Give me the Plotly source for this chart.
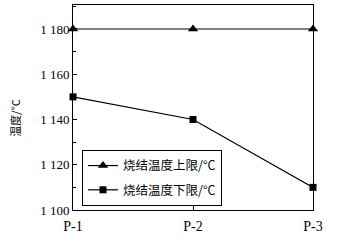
import plotly.graph_objects as go

categories = ["P-1", "P-2", "P-3"]
upper_limit = [1180, 1180, 1180]
lower_limit = [1150, 1140, 1110]
y_tick_vals = [1100, 1120, 1140, 1160, 1180]
y_tick_text = ["1 100", "1 120", "1 140", "1 160", "1 180"]
name_upper = "烧结温度上限/°C"
name_lower = "烧结温度下限/°C"
y_title = "温度/°C"

fig = go.Figure()
fig.add_trace(go.Scatter(
    x=categories, y=upper_limit, name=name_upper, mode="lines+markers",
    legendgroup="a",
    line=dict(color="black", width=1.2),
    marker=dict(symbol="triangle-up", size=9, color="black"),
    cliponaxis=False,
))
fig.add_trace(go.Scatter(
    x=categories, y=lower_limit, name=name_lower, mode="lines+markers",
    legendgroup="b",
    line=dict(color="black", width=1.2),
    marker=dict(symbol="square", size=7, color="black"),
    cliponaxis=False,
))

serif = "Liberation Serif, Times New Roman, serif"
cjk = "Noto Sans CJK SC, sans-serif"

fig.update_layout(
    width=351, height=246,
    margin=dict(l=73, r=38, t=5, b=36),
    paper_bgcolor="white", plot_bgcolor="white",
    showlegend=True,
    legend=dict(
        x=0.0375, y=0.293, xanchor="left", yanchor="top",
        bordercolor="black", borderwidth=1, bgcolor="white",
        font=dict(family=cjk, size=12.5, color="black"),
        tracegroupgap=5, itemwidth=30,
    ),
    font=dict(family=serif, size=13, color="black"),
    annotations=[dict(
        text=y_title, textangle=-90, xref="paper", yref="paper",
        x=-0.242, y=0.45, xanchor="center", yanchor="middle",
        showarrow=False, font=dict(family=cjk, size=11, color="black"),
    )],
)
fig.update_xaxes(
    type="category", range=[0, 2],
    showline=True, linecolor="black", linewidth=1, mirror=True,
    ticks="inside", ticklen=4, tickcolor="black",
    tickvals=categories, ticktext=categories,
    showgrid=False, zeroline=False,
    tickfont=dict(family=serif, size=14),
    ticklabelstandoff=3,
)
fig.update_yaxes(
    range=[1100, 1190.6],
    showline=True, linecolor="black", linewidth=1, mirror=True,
    ticks="inside", ticklen=4, tickcolor="black",
    tickvals=y_tick_vals, ticktext=y_tick_text,
    minor=dict(ticks="inside", ticklen=3, dtick=10, tick0=1100, tickcolor="black"),
    showgrid=False, zeroline=False,
    tickfont=dict(family=serif, size=13),
)

fig.write_html("out.html", config={"displayModeBar": False},
               post_script="document.body.style.margin='0';")
